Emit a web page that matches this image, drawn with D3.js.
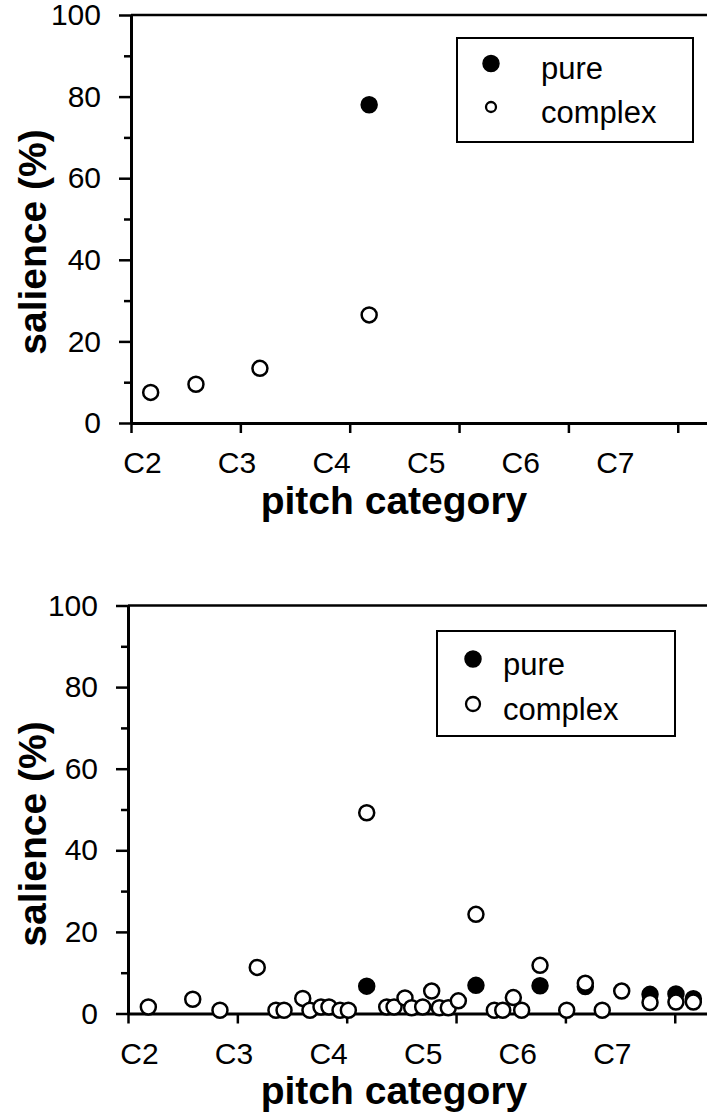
<!DOCTYPE html>
<html>
<head>
<meta charset="utf-8">
<script src="https://cdn.jsdelivr.net/npm/d3@7"></script>
<style>
  html, body { margin: 0; padding: 0; background: #fff; }
  svg { display: block; }
  text { font-family: "Liberation Sans", Arial, Helvetica, sans-serif; fill: #000; }
</style>
</head>
<body>
<svg id="chart" width="707" height="1115"></svg>
<script>
// ---------- data ----------
const xTickValues = [0, 1, 2, 3, 4, 5];
const xLabels = ["C2", "C3", "C4", "C5", "C6", "C7"];
const xLabelPos = [0.10, 0.965, 1.83, 2.695, 3.56, 4.425];
const yMajorTicks = [0, 20, 40, 60, 80, 100];
const yMinorTicks = [10, 30, 50, 70, 90];
const seriesNames = ["pure", "complex"];

// top panel
const topPureX = [2.178];
const topPureY = [78.0];
const topComplexX = [0.18, 0.594, 1.179, 2.178];
const topComplexY = [7.5, 9.5, 13.4, 26.5];

// bottom panel
const botPureX = [2.183, 3.182, 3.768, 4.182, 4.774, 5.011, 5.170];
const botPureY = [6.7, 6.9, 6.8, 6.6, 4.7, 4.8, 3.6];
const botComplexX = [0.186, 0.592, 0.841, 1.182, 1.353, 1.427, 1.598, 1.664, 1.765, 1.838,
                     1.939, 2.015, 2.183, 2.366, 2.433, 2.533, 2.594, 2.695, 2.777, 2.847,
                     2.929, 3.021, 3.182, 3.350, 3.427, 3.524, 3.600, 3.768, 4.012, 4.182,
                     4.337, 4.515, 4.774, 5.011, 5.170];
const botComplexY = [1.6, 3.5, 0.8, 11.3, 0.8, 0.8, 3.7, 0.8, 1.6, 1.6,
                     0.8, 0.8, 49.2, 1.6, 1.6, 3.8, 1.4, 1.6, 5.5, 1.4,
                     1.4, 3.1, 24.3, 0.8, 0.8, 3.9, 0.8, 11.8, 0.8, 7.4,
                     0.8, 5.5, 2.7, 2.8, 2.8];

// ---------- drawing ----------
const svg = d3.select("#chart");
const W = 707;

function panel(cfg) {
  const g = svg.append("g");
  const x = d3.scaleLinear().domain([0, 6]).range([cfg.left, cfg.left + 6 * 109.35]);
  const y = d3.scaleLinear().domain([0, 100]).range([cfg.bottom, cfg.top]);

  // top frame line
  g.append("line")
    .attr("x1", x(0)).attr("x2", W + 5)
    .attr("y1", y(100)).attr("y2", y(100))
    .attr("stroke", "#000").attr("stroke-width", 2.5);

  // y axis minor ticks
  g.append("g").attr("transform", `translate(${x(0)},0)`)
    .call(d3.axisLeft(y).tickValues(yMinorTicks).tickSize(7).tickSizeOuter(0).tickFormat(""))
    .call(a => a.select(".domain").remove())
    .call(a => a.selectAll("line").attr("stroke-width", 2.5));

  // y axis major
  g.append("g").attr("transform", `translate(${x(0)},0)`)
    .call(d3.axisLeft(y).tickValues(yMajorTicks).tickSize(12).tickSizeOuter(0).tickPadding(cfg.yPad))
    .call(a => a.select(".domain").attr("stroke-width", 3))
    .call(a => a.selectAll("line").attr("stroke-width", 2.5))
    .call(a => a.selectAll("text").style("font-size", "30px").attr("fill", "#000"));

  // x axis ticks + line
  g.append("g").attr("transform", `translate(0,${y(0)})`)
    .call(d3.axisBottom(x).tickValues(xTickValues).tickSize(10).tickSizeOuter(0).tickFormat(""))
    .call(a => a.select(".domain").attr("stroke-width", 3))
    .call(a => a.selectAll("line").attr("stroke-width", 2.5));

  // x labels
  g.append("g").attr("transform", `translate(0,${y(0)})`)
    .call(d3.axisBottom(x).tickValues(xLabelPos).tickSize(0).tickPadding(cfg.xPad)
      .tickFormat((d, i) => xLabels[i]))
    .call(a => a.select(".domain").remove())
    .call(a => a.selectAll("text").style("font-size", "30px").attr("fill", "#000"));

  // axis titles
  g.append("text")
    .attr("x", cfg.titleX).attr("y", cfg.titleY)
    .attr("text-anchor", "middle")
    .style("font-size", "39px").style("font-weight", "bold")
    .text("pitch category");
  g.append("text")
    .attr("transform", `translate(${cfg.ytX},${cfg.ytY}) rotate(-90)`)
    .attr("text-anchor", "middle")
    .style("font-size", "39px").style("font-weight", "bold")
    .text("salience (%)");

  // points: pure first, complex on top
  const pure = cfg.pureX.map((v, i) => [v, cfg.pureY[i]]);
  const complex = cfg.complexX.map((v, i) => [v, cfg.complexY[i]]);
  g.append("g").selectAll("circle").data(pure).join("circle")
    .attr("cx", d => x(d[0])).attr("cy", d => y(d[1])).attr("r", 7.5)
    .attr("fill", "#000").attr("stroke", "#000").attr("stroke-width", 2.5);
  g.append("g").selectAll("circle").data(complex).join("circle")
    .attr("cx", d => x(d[0])).attr("cy", d => y(d[1])).attr("r", 7.5)
    .attr("fill", "#fff").attr("stroke", "#000").attr("stroke-width", 2.5);

  // legend
  const L = cfg.legend;
  const lg = g.append("g");
  lg.append("rect").attr("x", L.x).attr("y", L.y).attr("width", L.w).attr("height", L.h)
    .attr("fill", "#fff").attr("stroke", "#000").attr("stroke-width", 2);
  lg.append("circle").attr("cx", L.mx).attr("cy", L.py).attr("r", 8)
    .attr("fill", "#000").attr("stroke", "#000").attr("stroke-width", 1.5);
  lg.append("circle").attr("cx", L.mx).attr("cy", L.cy).attr("r", L.cr)
    .attr("fill", "#fff").attr("stroke", "#000").attr("stroke-width", 2.3);
  lg.append("text").attr("x", L.tx).attr("y", L.py + 15.5).style("font-size", "31px").text(seriesNames[0]);
  lg.append("text").attr("x", L.tx).attr("y", L.cy + 15.5).style("font-size", "31px").text(seriesNames[1]);
}

panel({
  left: 131, top: 15, bottom: 423, yPad: 18, xPad: 29,
  titleX: 394, titleY: 514, ytX: 46, ytY: 242,
  pureX: topPureX, pureY: topPureY, complexX: topComplexX, complexY: topComplexY,
  legend: { x: 457, y: 38, w: 236, h: 104, mx: 491, py: 63.5, cy: 107, cr: 5, tx: 541 }
});

panel({
  left: 128, top: 605.5, bottom: 1013.5, yPad: 18, xPad: 29,
  titleX: 394, titleY: 1104, ytX: 46, ytY: 834,
  pureX: botPureX, pureY: botPureY, complexX: botComplexX, complexY: botComplexY,
  legend: { x: 437, y: 631, w: 238, h: 105, mx: 473, py: 659, cy: 704, cr: 7, tx: 503 }
});
</script>
</body>
</html>
